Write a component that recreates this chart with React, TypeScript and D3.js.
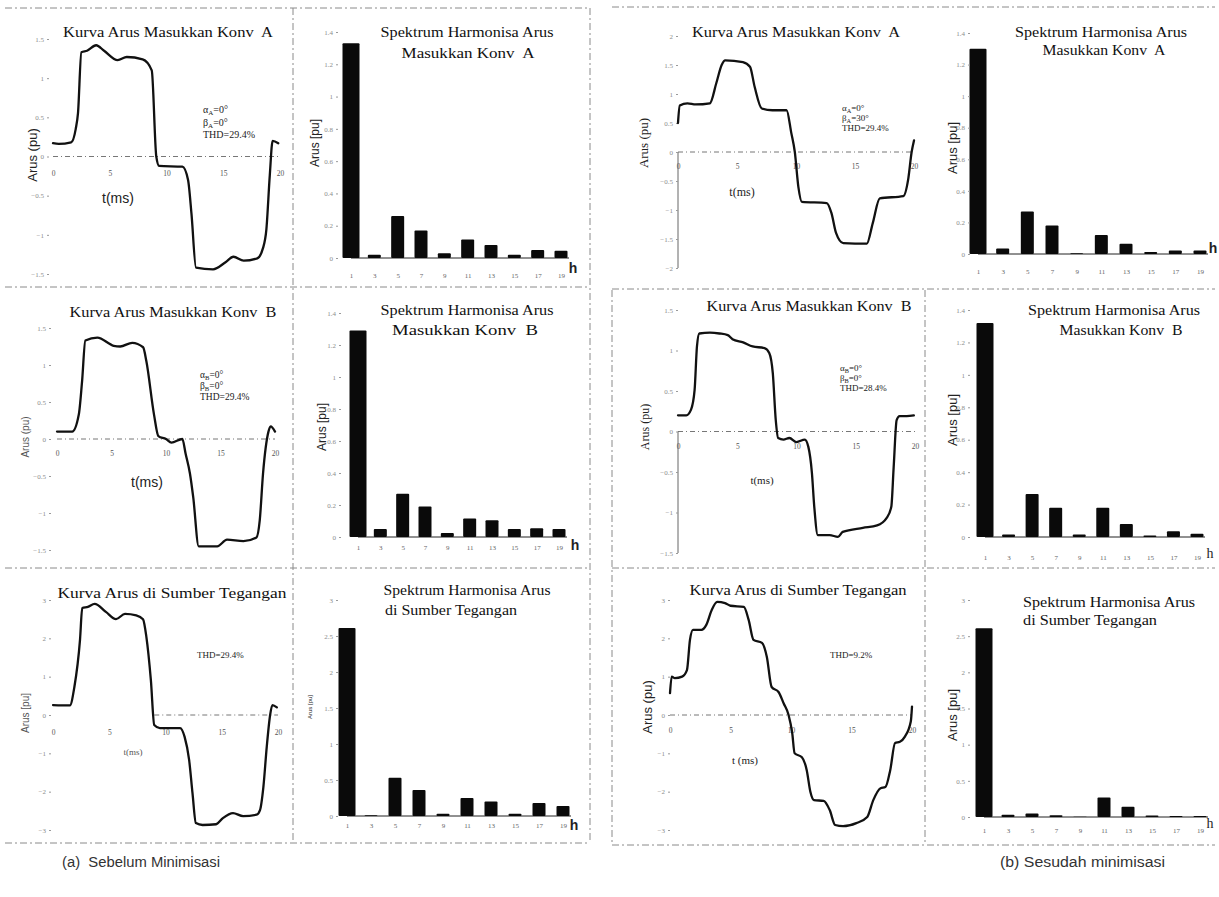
import * as d3 from "d3";
import React from "react";

type Pt = [number, number];

// ---------- data: t (ms), Arus (pu) ----------
// (a) Sebelum minimisasi
const kurvaKonvA_a: Pt[] = [
  [0, 0.17], [0.5, 0.16], [1.6, 0.18], [2.0, 0.35], [2.2, 0.55], [2.5, 1.33], [3.0, 1.35],
  [3.8, 1.42], [4.5, 1.35], [5.7, 1.23], [6.5, 1.27], [7.9, 1.24], [8.7, 1.1], [9.1, 0.0],
  [9.35, -0.12], [11.4, -0.13], [11.9, -0.3], [12.2, -0.73], [12.6, -1.42], [14.1, -1.44],
  [15.2, -1.35], [15.9, -1.28], [16.8, -1.33], [18.0, -1.3], [18.5, -1.17], [18.8, -0.93],
  [19.1, -0.24], [19.35, 0.2], [19.85, 0.17],
];
const kurvaKonvB_a: Pt[] = [
  [0, 0.1], [1.4, 0.1], [2.0, 0.33], [2.3, 0.78], [2.6, 1.33], [3.7, 1.37], [5.2, 1.26],
  [5.8, 1.25], [6.9, 1.3], [7.9, 1.24], [8.2, 1.05], [8.9, 0.33], [9.3, 0.04], [10.0, 0.0],
  [10.5, -0.05], [11.5, 0.0], [11.8, -0.2], [12.2, -0.47], [12.5, -0.79], [13.0, -1.45],
  [14.7, -1.45], [15.6, -1.36], [17.1, -1.38], [18.3, -1.33], [18.6, -1.1], [18.9, -0.47],
  [19.4, 0.1], [19.6, 0.17], [20, 0.1],
];
const kurvaSumber_a: Pt[] = [
  [0, 0.26], [1.5, 0.25], [1.9, 0.73], [2.4, 1.96], [2.6, 2.79], [3.1, 2.82], [3.7, 2.9],
  [4.7, 2.69], [5.6, 2.5], [6.4, 2.64], [7.4, 2.6], [8.0, 2.5], [8.3, 2.04], [8.7, 0.91],
  [9.0, -0.26], [9.5, -0.34], [11.3, -0.34], [11.7, -0.57], [12.1, -1.17], [12.4, -2.04],
  [12.7, -2.82], [13.3, -2.87], [14.5, -2.85], [15.1, -2.69], [16.0, -2.56], [16.9, -2.64],
  [18.1, -2.6], [18.4, -2.48], [18.7, -1.88], [19.0, -0.83], [19.3, 0.0], [19.5, 0.26],
  [19.9, 0.2],
];
// (b) Sesudah minimisasi
const kurvaKonvA_b: Pt[] = [
  [0, 0.5], [0.15, 0.8], [0.8, 0.84], [1.5, 0.82], [2.7, 0.84], [3.25, 1.19], [3.7, 1.5],
  [4.0, 1.58], [5.5, 1.55], [6.1, 1.47], [6.5, 1.12], [7.1, 0.75], [8.0, 0.72], [9.2, 0.72],
  [9.6, 0.33], [9.9, 0.0], [10.2, -0.6], [10.5, -0.86], [12.6, -0.88], [13.0, -1.05],
  [13.4, -1.4], [14.0, -1.57], [16.0, -1.58], [16.5, -1.23], [17.1, -0.8], [19.1, -0.76],
  [19.5, -0.48], [19.8, 0.0], [20, 0.2],
];
const kurvaKonvB_b: Pt[] = [
  [0, 0.2], [0.7, 0.2], [1.1, 0.27], [1.4, 0.51], [1.6, 1.05], [1.8, 1.21], [2.7, 1.22],
  [3.5, 1.21], [4.2, 1.19], [4.6, 1.14], [5.5, 1.1], [6.3, 1.05], [7.3, 1.03], [7.7, 0.97],
  [8.0, 0.72], [8.25, 0.14], [8.45, -0.08], [8.9, -0.1], [9.4, -0.08], [10.0, -0.13],
  [10.7, -0.1], [11.0, -0.19], [11.3, -0.51], [11.5, -0.93], [11.8, -1.28], [12.8, -1.28],
  [13.5, -1.3], [13.9, -1.24], [15.6, -1.19], [16.8, -1.16], [17.6, -1.07], [18.0, -0.93],
  [18.2, -0.44], [18.45, 0.14], [18.7, 0.19], [19.3, 0.19], [19.9, 0.2],
];
const kurvaSumber_b: Pt[] = [
  [0, 0.57], [0.14, 1.0], [0.4, 0.96], [1.0, 1.0], [1.4, 1.17], [1.65, 1.96], [1.9, 2.22],
  [2.6, 2.22], [3.0, 2.35], [3.45, 2.74], [3.9, 2.95], [4.55, 2.92], [5.0, 2.85], [6.1, 2.82],
  [6.5, 2.48], [6.9, 1.96], [7.6, 1.88], [8.0, 1.52], [8.4, 0.73], [8.97, 0.6], [9.4, 0.3],
  [9.8, 0.0], [10.1, -0.47], [10.3, -1.0], [10.9, -1.1], [11.3, -1.44], [11.6, -2.0],
  [11.9, -2.22], [12.7, -2.24], [13.2, -2.48], [13.65, -2.87], [14.3, -2.9], [15.4, -2.82],
  [16.3, -2.66], [16.8, -2.22], [17.4, -1.91], [17.8, -1.88], [18.2, -1.44], [18.6, -0.73],
  [19.0, -0.7], [19.4, -0.57], [19.9, -0.17], [20, 0.22],
];

// harmonic spectra (pu) for h = 1,3,...,19
const harmonics = [1, 3, 5, 7, 9, 11, 13, 15, 17, 19];
const spektrumKonvA_a = [1.33, 0.02, 0.26, 0.17, 0.03, 0.115, 0.08, 0.02, 0.05, 0.045];
const spektrumKonvB_a = [1.29, 0.05, 0.27, 0.19, 0.025, 0.115, 0.105, 0.05, 0.055, 0.05];
const spektrumSumber_a = [2.61, 0.01, 0.53, 0.36, 0.03, 0.25, 0.2, 0.03, 0.18, 0.14];
const spektrumKonvA_b = [1.3, 0.035, 0.27, 0.18, 0.004, 0.12, 0.065, 0.012, 0.022, 0.022];
const spektrumKonvB_b = [1.32, 0.015, 0.265, 0.18, 0.015, 0.18, 0.08, 0.01, 0.035, 0.02];
const spektrumSumber_b = [2.61, 0.03, 0.05, 0.025, 0.005, 0.27, 0.14, 0.02, 0.015, 0.015];

// tick values
const timeTicks = [0, 5, 10, 15, 20];
const ticksKonv = [-1.5, -1, -0.5, 0, 0.5, 1, 1.5];
const ticksKonvB = [-2, -1.5, -1, -0.5, 0, 0.5, 1, 1.5, 2];
const ticksSumber = [-3, -2, -1, 0, 1, 2, 3];
const ticksSpektrum = [0, 0.2, 0.4, 0.6, 0.8, 1, 1.2, 1.4];
const ticksSpektrumSumber = [0, 0.5, 1, 1.5, 2, 2.5, 3];

const SERIF = "'Liberation Serif', 'Times New Roman', serif";
const SANS = "'Liberation Sans', Arial, sans-serif";

export const useD3 = (renderFn: (sel: any) => void, deps: any[]) => {
  const ref = React.useRef<SVGGElement>(null);
  React.useEffect(() => {
    renderFn(d3.select(ref.current));
  }, deps);
  return ref;
};

const styleTicks = (g: any, size: number, fill: string) => {
  g.attr("font-family", SERIF).attr("font-size", size);
  g.selectAll("text").attr("fill", fill);
  g.selectAll(".tick line").attr("stroke", "#9a9a9a");
};

const notesAB = (g: string, thd: string) => [
  { g: "α", sub: g, rest: "=0°" },
  { g: "β", sub: g, rest: "=0°" },
  { g: "THD=" + thd },
];

const Notes = ({ n }: any) => (
  <text x={n.x} y={n.y} fontFamily={SERIF} fontSize={n.size} fill="#222">
    {n.lines.map((l: any, i: number) => (
      <tspan key={i} x={n.x} dy={i === 0 ? 0 : n.gap}>
        {l.g}
        {l.sub && (
          <tspan fontSize={n.size * 0.7} dy={2}>
            {l.sub}
          </tspan>
        )}
        {l.sub && <tspan dy={-2}>{l.rest}</tspan>}
      </tspan>
    ))}
  </text>
);

const Label = ({ l, rotate }: any) => (
  <text
    transform={`translate(${l.x},${l.y})${rotate ? " rotate(-90)" : ""}`}
    textAnchor={l.anchor || "middle"}
    dominantBaseline="central"
    fontFamily={l.family || SANS}
    fontSize={l.size}
    fontWeight={l.weight || "normal"}
    fill={l.fill || "#222"}
    style={{ whiteSpace: "pre" }}
  >
    {l.text}
  </text>
);

const Title = ({ t }: any) => (
  <text
    x={t.x}
    y={t.y}
    textAnchor={t.anchor || "middle"}
    fontFamily={SERIF}
    fontSize={15}
    fill="#111"
    textLength={t.len}
    lengthAdjust="spacingAndGlyphs"
    style={{ whiteSpace: "pre" }}
  >
    {t.text}
  </text>
);

const CurvePanel = ({ p }: any) => {
  const x = d3.scaleLinear().domain([0, 20]).range(p.xr);
  const y = d3.scaleLinear().domain(p.yDom).range(p.yr);
  const line = d3
    .line<Pt>()
    .x((d) => x(d[0]))
    .y((d) => y(d[1]))
    .curve(d3.curveMonotoneX);

  const yRef = useD3((g) => {
    g.call(
      d3.axisLeft(y).tickValues(p.yTicks).tickSize(2).tickPadding(3).tickFormat(d3.format(""))
    );
    g.select(".domain").remove();
    styleTicks(g, 7, "#8c8c8c");
  }, []);

  const xRef = useD3((g) => {
    g.call(d3.axisBottom(x).tickValues(timeTicks).tickSize(0).tickFormat(d3.format("")));
    g.select(".domain").remove();
    g.selectAll("text").attr("y", 0).attr("dy", 0);
    styleTicks(g, 7.5, "#555");
  }, []);

  return (
    <g>
      <line
        x1={x(p.zeroFrom)}
        x2={x(20)}
        y1={y(0)}
        y2={y(0)}
        stroke="#777"
        strokeWidth={1}
        strokeDasharray="5 3 1 3"
      />
      {p.axisLine && (
        <line x1={p.axisX} x2={p.axisX} y1={y(0)} y2={p.yr[0]} stroke="#666" strokeWidth={1} />
      )}
      <g ref={yRef} transform={`translate(${p.axisX},0)`} />
      <g ref={xRef} transform={`translate(0,${p.xLabelY})`} />
      <path
        d={line(p.data) || ""}
        fill="none"
        stroke="#111"
        strokeWidth={2.3}
        strokeLinejoin="round"
        strokeLinecap="round"
      />
      <Title t={p.title} />
      <Notes n={p.notes} />
      <Label l={p.tLabel} />
      <Label l={p.yLabel} rotate />
    </g>
  );
};

const SpectrumPanel = ({ p }: any) => {
  const x = d3.scalePoint<number>().domain(harmonics).range(p.xr);
  const y = d3.scaleLinear().domain([0, p.yMax]).range(p.yr);

  const yRef = useD3((g) => {
    g.call(
      d3.axisLeft(y).tickValues(p.yTicks).tickSize(2).tickPadding(3).tickFormat(d3.format(""))
    );
    g.select(".domain").remove();
    styleTicks(g, 7, "#8c8c8c");
  }, []);

  const xRef = useD3((g) => {
    g.call(d3.axisBottom(x).tickSize(0));
    g.select(".domain").remove();
    g.selectAll("text").attr("y", 0).attr("dy", 0);
    styleTicks(g, 7, "#666");
  }, []);

  return (
    <g>
      <line
        x1={x(harmonics[0])}
        x2={x(harmonics[harmonics.length - 1])! + 8}
        y1={y(0)}
        y2={y(0)}
        stroke="#222"
        strokeWidth={1}
      />
      {harmonics.map((h, i) => {
        const w = i === 0 ? 17 : 13;
        const v = p.values[i];
        return (
          <rect
            key={h}
            x={x(h)! - w / 2}
            y={y(v)}
            width={w}
            height={y(0) - y(v)}
            rx={1}
            fill="#0a0a0a"
          />
        );
      })}
      <g ref={yRef} transform={`translate(${p.axisX},0)`} />
      <g ref={xRef} transform={`translate(0,${p.xLabelY})`} />
      {p.titles.map((t: any, i: number) => (
        <Title key={i} t={t} />
      ))}
      <Label
        l={{ text: "h", x: p.h[0], y: p.h[1], size: 14, weight: p.hBold ? "bold" : "normal",
          family: p.hBold ? SANS : SERIF }}
      />
      <Label l={p.yLabel} rotate />
    </g>
  );
};

const curvePanels = [
  {
    data: kurvaKonvA_a, xr: [53, 280], yr: [274, 39], yDom: [-1.5, 1.5], yTicks: ticksKonv,
    axisX: 49, axisLine: false, xLabelY: 176, zeroFrom: 0,
    title: { text: "Kurva Arus Masukkan Konv  A", x: 168, y: 37, len: 210 },
    notes: { x: 203, y: 113, size: 10, gap: 12.5, lines: notesAB("A", "29.4%") },
    tLabel: { text: "t(ms)", x: 118, y: 198, size: 14 },
    yLabel: { text: "Arus (pu)", x: 32, y: 155, size: 13 },
  },
  {
    data: kurvaKonvB_a, xr: [57, 275], yr: [550, 328], yDom: [-1.5, 1.5], yTicks: ticksKonv,
    axisX: 51, axisLine: false, xLabelY: 456, zeroFrom: 0,
    title: { text: "Kurva Arus Masukkan Konv  B", x: 173, y: 317, len: 207 },
    notes: { x: 200, y: 378, size: 9.5, gap: 11, lines: notesAB("B", "29.4%") },
    tLabel: { text: "t(ms)", x: 147, y: 482, size: 14 },
    yLabel: { text: "Arus (pu)", x: 25, y: 437, size: 10, fill: "#555" },
  },
  {
    data: kurvaSumber_a, xr: [53, 278], yr: [830, 600], yDom: [-3, 3], yTicks: ticksSumber,
    axisX: 51, axisLine: false, xLabelY: 735, zeroFrom: 9,
    title: { text: "Kurva Arus di Sumber Tegangan", x: 172, y: 598, len: 229 },
    notes: { x: 197, y: 658, size: 9, gap: 11, lines: [{ g: "THD=29.4%" }] },
    tLabel: { text: "t(ms)", x: 133, y: 752, size: 9, family: SERIF, fill: "#555" },
    yLabel: { text: "Arus [pu]", x: 25, y: 713, size: 10, fill: "#555" },
  },
  {
    data: kurvaKonvA_b, xr: [678, 914], yr: [268, 36], yDom: [-2, 2], yTicks: ticksKonvB,
    axisX: 678, axisLine: true, xLabelY: 169, zeroFrom: 0,
    title: { text: "Kurva Arus Masukkan Konv  A", x: 796, y: 37, len: 208 },
    notes: { x: 842, y: 111, size: 9, gap: 10, lines: [
      { g: "α", sub: "A", rest: "=0°" }, { g: "β", sub: "A", rest: "=30°" }, { g: "THD=29.4%" },
    ] },
    tLabel: { text: "t(ms)", x: 742, y: 192, size: 12, family: SERIF },
    yLabel: { text: "Arus (pu)", x: 643, y: 143, size: 13, family: SERIF },
  },
  {
    data: kurvaKonvB_b, xr: [678, 915], yr: [553, 310], yDom: [-1.5, 1.5], yTicks: ticksKonv,
    axisX: 678, axisLine: true, xLabelY: 449, zeroFrom: 0,
    title: { text: "Kurva Arus Masukkan Konv  B", x: 809, y: 311, len: 205 },
    notes: { x: 840, y: 371, size: 9, gap: 10, lines: notesAB("B", "28.4%") },
    tLabel: { text: "t(ms)", x: 762, y: 480, size: 11, family: SERIF },
    yLabel: { text: "Arus (pu)", x: 645, y: 427, size: 12, family: SERIF },
  },
  {
    data: kurvaSumber_b, xr: [670, 912], yr: [830, 600], yDom: [-3, 3], yTicks: ticksSumber,
    axisX: 670, axisLine: false, xLabelY: 733, zeroFrom: 0,
    title: { text: "Kurva Arus di Sumber Tegangan", x: 798, y: 595, len: 217 },
    notes: { x: 830, y: 658, size: 9, gap: 11, lines: [{ g: "THD=9.2%" }] },
    tLabel: { text: "t (ms)", x: 745, y: 760, size: 11, family: SERIF },
    yLabel: { text: "Arus (pu)", x: 647, y: 707, size: 13 },
  },
];

const spectrumPanels = [
  {
    values: spektrumKonvA_a, xr: [351, 561], yr: [258, 32], yMax: 1.4, yTicks: ticksSpektrum,
    axisX: 338, xLabelY: 278, h: [573, 268], hBold: true,
    titles: [
      { text: "Spektrum Harmonisa Arus", x: 467, y: 37, len: 173 },
      { text: "Masukkan Konv  A", x: 468, y: 58, len: 133 },
    ],
    yLabel: { text: "Arus [pu]", x: 315, y: 143, size: 12 },
  },
  {
    values: spektrumKonvB_a, xr: [358, 559], yr: [537, 313], yMax: 1.4, yTicks: ticksSpektrum,
    axisX: 341, xLabelY: 550, h: [575, 545], hBold: true,
    titles: [
      { text: "Spektrum Harmonisa Arus", x: 467, y: 315, len: 173 },
      { text: "Masukkan Konv  B", x: 465, y: 335, len: 146 },
    ],
    yLabel: { text: "Arus [pu]", x: 322, y: 427, size: 12 },
  },
  {
    values: spektrumSumber_a, xr: [347, 563], yr: [816, 600], yMax: 3, yTicks: ticksSpektrumSumber,
    axisX: 338, xLabelY: 828, h: [574, 825], hBold: true,
    titles: [
      { text: "Spektrum Harmonisa Arus", x: 467, y: 595, len: 167 },
      { text: "di Sumber Tegangan", x: 385, y: 615, len: 132, anchor: "start" },
    ],
    yLabel: { text: "Arus [pu]", x: 310, y: 707, size: 6 },
  },
  {
    values: spektrumKonvA_b, xr: [978, 1200], yr: [254, 33], yMax: 1.4, yTicks: ticksSpektrum,
    axisX: 970, xLabelY: 274, h: [1213, 248], hBold: true,
    titles: [
      { text: "Spektrum Harmonisa Arus", x: 1101, y: 37, len: 172 },
      { text: "Masukkan Konv  A", x: 1104, y: 55, len: 123 },
    ],
    yLabel: { text: "Arus [pu]", x: 952, y: 148, size: 13 },
  },
  {
    values: spektrumKonvB_b, xr: [985, 1197], yr: [537, 310], yMax: 1.4, yTicks: ticksSpektrum,
    axisX: 970, xLabelY: 560, h: [1210, 553], hBold: false,
    titles: [
      { text: "Spektrum Harmonisa Arus", x: 1114, y: 315, len: 172 },
      { text: "Masukkan Konv  B", x: 1121, y: 335, len: 123 },
    ],
    yLabel: { text: "Arus [pu]", x: 952, y: 420, size: 13 },
  },
  {
    values: spektrumSumber_b, xr: [984, 1200], yr: [817, 600], yMax: 3, yTicks: ticksSpektrumSumber,
    axisX: 970, xLabelY: 833, h: [1210, 823], hBold: false,
    titles: [
      { text: "Spektrum Harmonisa Arus", x: 1109, y: 607, len: 172 },
      { text: "di Sumber Tegangan", x: 1023, y: 625, len: 134, anchor: "start" },
    ],
    yLabel: { text: "Arus [pu]", x: 952, y: 715, size: 13 },
  },
];

// dashed frame lines of the scanned figure
const frameLines = [
  [5, 8, 590, 8], [5, 287, 590, 287], [5, 568, 590, 568], [5, 843, 590, 843],
  [293, 8, 293, 843], [590, 8, 590, 843],
  [612, 7, 1215, 7], [612, 289, 1215, 289], [612, 568, 1215, 568], [612, 845, 1215, 845],
  [612, 290, 612, 845], [925, 290, 925, 845],
];

export default function App() {
  return (
    <svg
      width={1219}
      height={897}
      style={{ position: "absolute", left: 0, top: 0, background: "#fff" }}
    >
      <rect width={1219} height={897} fill="#fff" />
      {frameLines.map((l, i) => (
        <line
          key={i}
          x1={l[0]}
          y1={l[1]}
          x2={l[2]}
          y2={l[3]}
          stroke="#8a8a8a"
          strokeWidth={1}
          strokeDasharray="7 3 2 3"
        />
      ))}
      {curvePanels.map((p, i) => (
        <CurvePanel key={i} p={p} />
      ))}
      {spectrumPanels.map((p, i) => (
        <SpectrumPanel key={i} p={p} />
      ))}
      <text x={62} y={867} fontFamily={SANS} fontSize={14} fill="#333" textLength={158}
        lengthAdjust="spacingAndGlyphs" style={{ whiteSpace: "pre" }}>
        (a)  Sebelum Minimisasi
      </text>
      <text x={1000} y={867} fontFamily={SANS} fontSize={14} fill="#333" textLength={165}
        lengthAdjust="spacingAndGlyphs">
        (b) Sesudah minimisasi
      </text>
    </svg>
  );
}
